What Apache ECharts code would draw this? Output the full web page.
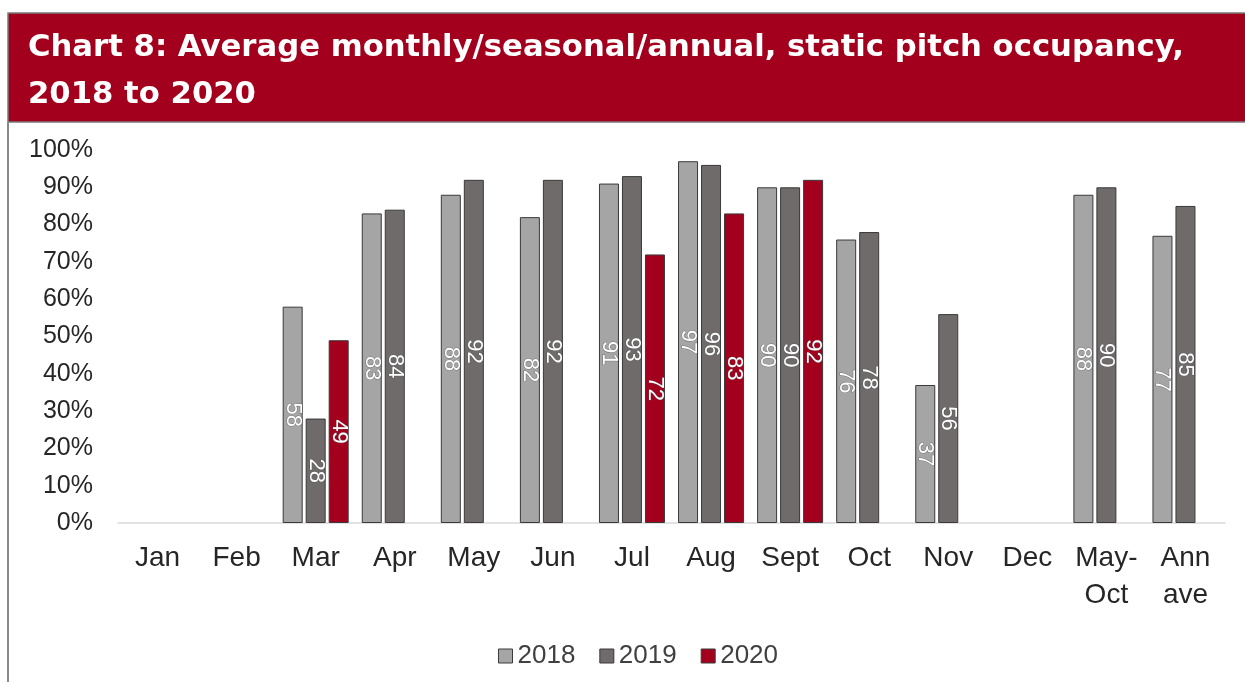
<!DOCTYPE html>
<html>
<head>
<meta charset="utf-8">
<script src="https://cdn.jsdelivr.net/npm/echarts@6/dist/echarts.min.js"></script>
<style>
html,body{margin:0;padding:0;background:#fff;}
#c{width:1245px;height:682px;}
</style>
</head>
<body>
<div id="c"></div>
<script>
const categories = ['Jan','Feb','Mar','Apr','May','Jun','Jul','Aug','Sept','Oct','Nov','Dec','May-\nOct','Ann\nave'];
const s2018 = [null,null,58,83,88,82,91,97,90,76,37,null,88,77];
const s2019 = [null,null,28,84,92,92,93,96,90,78,56,null,90,85];
const s2020 = [null,null,49,null,null,null,72,83,92,null,null,null,null,null];
const seriesNames = ['2018','2019','2020'];
const yTicks = [0,10,20,30,40,50,60,70,80,90,100];
const titleText = 'Chart 8: Average monthly/seasonal/annual, static pitch occupancy,\n2018 to 2020';

const colors = ['#A5A5A5','#6F6B6B','#A3001E'];
const font = 'Liberation Sans, Arial, sans-serif';

const chart = echarts.init(document.getElementById('c'), null, {renderer:'canvas'});
const lbl = {
  show: true,
  position: 'inside',
  rotate: -90,
  color: '#ffffff',
  fontSize: 22,
  fontFamily: font,
  textBorderColor: 'rgba(80,80,80,0.6)',
  textBorderWidth: 1,
  formatter: p => p.value == null ? '' : String(p.value)
};
const mk = (name, data, i) => ({
  name, type:'bar', data,
  barWidth: 20, barGap: '15%',
  itemStyle: {color: colors[i], borderColor:'#3a3a3a', borderWidth:1},
  label: lbl,
  emphasis: {disabled:true}
});
chart.setOption({
  animation: false,
  textStyle: {fontFamily: font},
  graphic: [
    {type:'rect', shape:{x:8,y:13,width:1245,height:109}, style:{fill:'#A3001E', stroke:'#7a7a7a', lineWidth:1.5}, z:0},
    {type:'line', shape:{x1:8,y1:122,x2:8,y2:682}, style:{stroke:'#8a8a8a', lineWidth:2}},
    {type:'text', left:28, top:25, style:{text:titleText, fill:'#ffffff', font:'bold 30.7px DejaVu Sans, sans-serif', lineHeight:47}, z:10}
  ],
  legend: {
    data: seriesNames,
    top: 638,
    left: 493,
    itemWidth: 14, itemHeight: 14, itemGap: 24,
    icon: 'rect',
    textStyle: {fontSize: 26, color:'#404040', fontFamily: font, padding:[0,0,0,0]},
    itemStyle: {borderColor:'#3a3a3a', borderWidth:1}
  },
  grid: {left:118, right:20, top:150, bottom:159, containLabel:false},
  xAxis: {
    type: 'category',
    data: categories,
    axisLine: {show:true, lineStyle:{color:'#d9d9d9', width:1.5}},
    axisTick: {show:false},
    axisLabel: {fontSize:28, color:'#262626', fontFamily:font, margin:17, lineHeight:37, interval:0}
  },
  yAxis: {
    type: 'value',
    min: 0, max: 100, interval: 10,
    axisLine: {show:false},
    axisTick: {show:false},
    splitLine: {show:false},
    axisLabel: {fontSize:25, color:'#262626', fontFamily:font, margin:25, formatter: v => yTicks.includes(v) ? v + '%' : ''}
  },
  series: [mk(seriesNames[0], s2018, 0), mk(seriesNames[1], s2019, 1), mk(seriesNames[2], s2020, 2)]
});
</script>
</body>
</html>
